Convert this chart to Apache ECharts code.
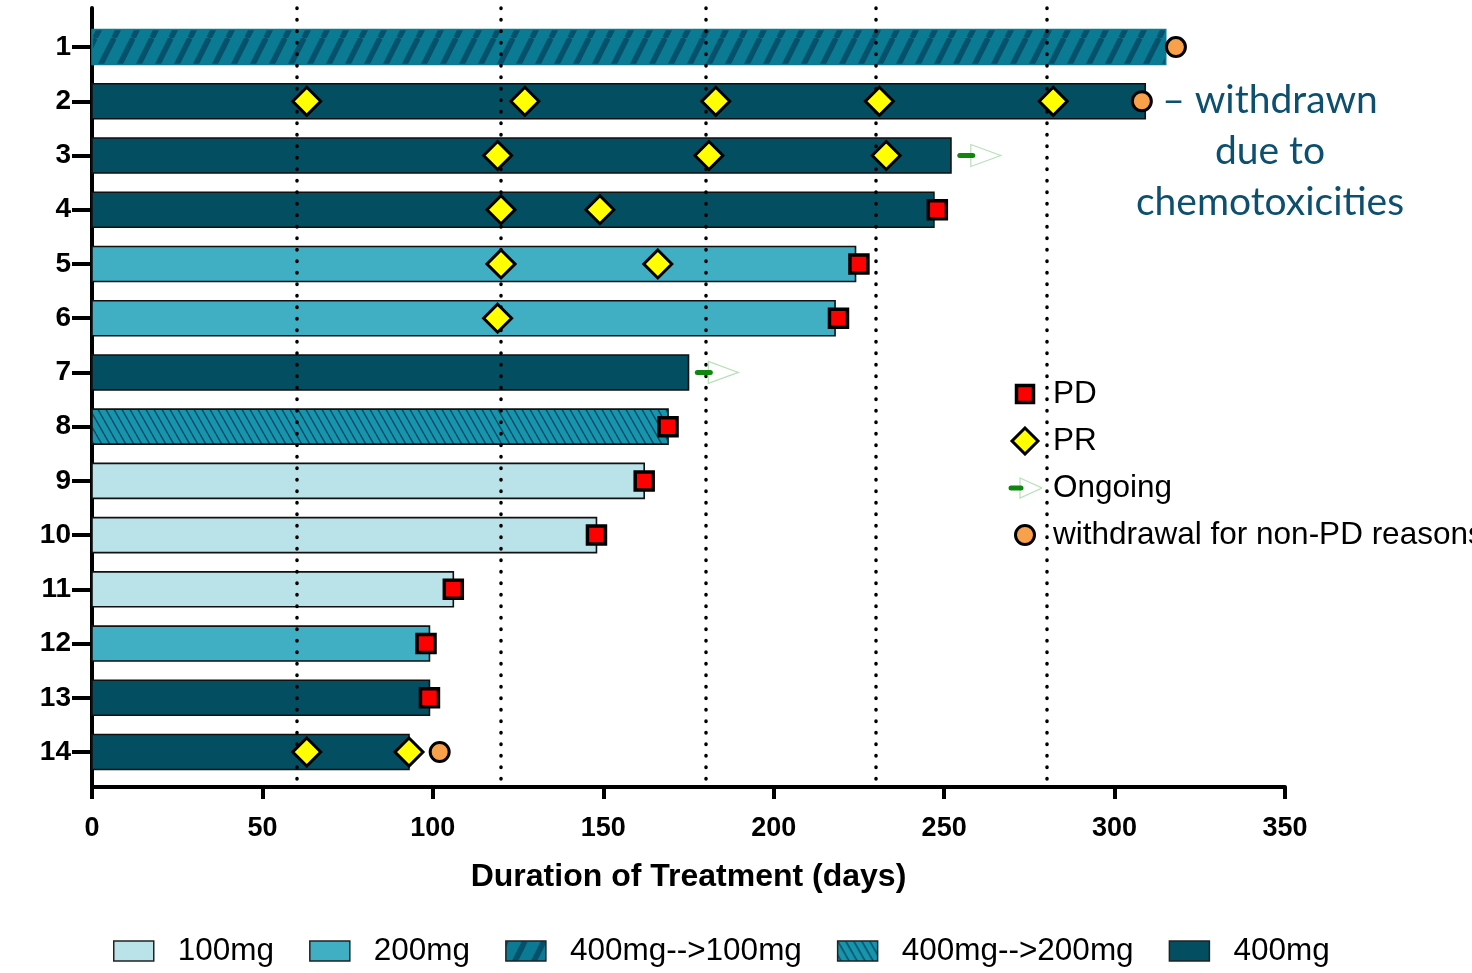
<!DOCTYPE html>
<html><head><meta charset="utf-8">
<script src="https://cdn.jsdelivr.net/npm/echarts@6/dist/echarts.min.js"></script>
<style>html,body{margin:0;padding:0;background:#fff}#c{width:1472px;height:973px}</style>
</head><body><div id="c"></div>
<script>
// ---------- data ----------
const patientRows = [1, 2, 3, 4, 5, 6, 7, 8, 9, 10, 11, 12, 13, 14];
const durations = [315, 309, 252, 247, 224, 218, 175, 169, 162, 148, 106, 99, 99, 93];
const doses = ['400mg-->100mg', '400mg', '400mg', '400mg', '200mg', '200mg', '400mg',
  '400mg-->200mg', '100mg', '100mg', '100mg', '200mg', '400mg', '400mg'];
const doseLevels = ['100mg', '200mg', '400mg-->100mg', '400mg-->200mg', '400mg'];
// [day, patient row]
const prEvents = [[63, 2], [127, 2], [183, 2], [231, 2], [282, 2], [119, 3], [181, 3], [233, 3],
  [120, 4], [149, 4], [120, 5], [166, 5], [119, 6], [63, 14], [93, 14]];
const pdEvents = [[248, 4], [225, 5], [219, 6], [169, 8], [162, 9], [148, 10], [106, 11], [98, 12], [99, 13]];
const ongoingEvents = [[254, 3], [177, 7]];
const withdrawalEvents = [[318, 1], [308, 2], [102, 14]];
const referenceDays = [60, 120, 180, 230, 280];
const xTickValues = [0, 50, 100, 150, 200, 250, 300, 350];
const eventNames = ['PD', 'PR', 'Ongoing', 'withdrawal for non-PD reasons'];
const annotationLines = ['– withdrawn', 'due to', 'chemotoxicities'];

// ---------- styles ----------
function hatch(bg, fg, w, h, lw, dir) {
  const c = document.createElement('canvas');
  c.width = w; c.height = h;
  const g = c.getContext('2d');
  g.fillStyle = bg; g.fillRect(0, 0, w, h);
  g.strokeStyle = fg; g.lineWidth = lw;
  g.beginPath();
  for (let k = -1; k <= 1; k++) {
    if (dir === '/') { g.moveTo(k * w, h); g.lineTo(k * w + w, 0); }
    else { g.moveTo(k * w, 0); g.lineTo(k * w + w, h); }
  }
  g.stroke();
  return c;
}
const pat100 = { image: hatch('#0b7b93', '#05506a', 19, 38, 5.5, '/'), repeat: 'repeat' };
const pat200 = { image: hatch('#1795ae', '#0a4c5e', 8, 14, 1.4, '\\'), repeat: 'repeat' };
const doseStyle = {
  '100mg': { fill: '#bae3e9', stroke: '#111' },
  '200mg': { fill: '#40aec3', stroke: '#111' },
  '400mg-->100mg': { fill: pat100, stroke: '#0b7b93' },
  '400mg-->200mg': { fill: pat200, stroke: '#111' },
  '400mg': { fill: '#044e61', stroke: '#111' }
};

// legend icons drawn at their real size on a 34x30 canvas
function iconCanvas(draw) {
  const c = document.createElement('canvas');
  c.width = 34; c.height = 30;
  const g = c.getContext('2d');
  draw(g);
  return 'image://' + c.toDataURL();
}
const eventIcons = {
  'PD': iconCanvas(g => {
    g.fillStyle = '#ff0000'; g.strokeStyle = '#000'; g.lineWidth = 3.5;
    g.fillRect(8.5, 6.5, 17, 17); g.strokeRect(8.5, 6.5, 17, 17);
  }),
  'PR': iconCanvas(g => {
    g.fillStyle = '#ffff00'; g.strokeStyle = '#000'; g.lineWidth = 3;
    g.beginPath(); g.moveTo(17, 2); g.lineTo(30, 15); g.lineTo(17, 28); g.lineTo(4, 15); g.closePath();
    g.fill(); g.stroke();
  }),
  'Ongoing': iconCanvas(g => {
    g.fillStyle = '#fff'; g.strokeStyle = '#b9e0b9'; g.lineWidth = 1.2;
    g.beginPath(); g.moveTo(12, 5); g.lineTo(34, 15); g.lineTo(12, 25); g.closePath();
    g.fill(); g.stroke();
    g.strokeStyle = '#0f870f'; g.lineWidth = 5; g.lineCap = 'round';
    g.beginPath(); g.moveTo(3, 15); g.lineTo(13, 15); g.stroke();
  }),
  'withdrawal for non-PD reasons': iconCanvas(g => {
    g.fillStyle = '#f9a04b'; g.strokeStyle = '#000'; g.lineWidth = 3;
    g.beginPath(); g.arc(17, 15, 9.5, 0, Math.PI * 2); g.fill(); g.stroke();
  })
};

const FONT = '"Liberation Sans", Arial, sans-serif';

function renderBar(params, api) {
  const row = api.value(1);
  const end = api.coord([api.value(0), row]);
  const start = api.coord([0, row]);
  const h = api.size([0, 0.645])[1];
  const st = doseStyle[doses[row - 1]];
  return {
    type: 'rect',
    shape: { x: start[0], y: end[1] - h / 2, width: end[0] - start[0], height: h },
    style: { fill: st.fill, stroke: st.stroke, lineWidth: 1.6 }
  };
}

function renderOngoing(params, api) {
  const p = api.coord([api.value(0), api.value(1)]);
  return {
    type: 'group',
    children: [
      { type: 'polygon', shape: { points: [[p[0] + 13, p[1] - 11], [p[0] + 43, p[1]], [p[0] + 13, p[1] + 11]] },
        style: { fill: '#fff', stroke: '#b9e0b9', lineWidth: 1.2 } },
      { type: 'line', shape: { x1: p[0] + 2, y1: p[1], x2: p[0] + 15, y2: p[1] },
        style: { stroke: '#0f870f', lineWidth: 5, lineCap: 'round' } }
    ]
  };
}

const barSeries = doseLevels.map(level => ({
  name: level,
  type: 'custom',
  renderItem: renderBar,
  z: 2,
  itemStyle: { color: doseStyle[level].fill, borderColor: '#222', borderWidth: 1.5 },
  encode: { x: 0, y: 1 },
  data: patientRows.filter(r => doses[r - 1] === level).map(r => [durations[r - 1], r])
}));

const chart = echarts.init(document.getElementById('c'), null, { renderer: 'canvas' });
chart.setOption({
  animation: false,
  backgroundColor: '#fff',
  grid: { left: 92, right: 187, top: 8, bottom: 186 },
  xAxis: {
    type: 'value', min: 0, max: 350, interval: 50,
    axisLine: { show: true, lineStyle: { color: '#000', width: 4 } },
    axisTick: { show: true, length: 12, lineStyle: { color: '#000', width: 4 } },
    axisLabel: { color: '#000', fontFamily: FONT, fontWeight: 'bold', fontSize: 27, margin: 28,
      customValues: xTickValues },
    splitLine: { show: false },
    name: 'Duration of Treatment (days)', nameLocation: 'middle', nameGap: 74,
    nameTextStyle: { color: '#000', fontFamily: FONT, fontWeight: 'bold', fontSize: 32 }
  },
  yAxis: {
    type: 'value', inverse: true, min: 0.28, max: 14.645,
    axisLine: { show: true, onZero: false, lineStyle: { color: '#000', width: 4 } },
    axisTick: { show: true, length: 20, lineStyle: { color: '#000', width: 4 }, customValues: patientRows },
    axisLabel: { color: '#000', fontFamily: FONT, fontWeight: 'bold', fontSize: 28, margin: 21,
      customValues: patientRows },
    splitLine: { show: false }
  },
  legend: [
    {
      data: doseLevels, orient: 'horizontal', left: 113, top: 935, padding: 0,
      icon: 'rect', itemWidth: 40, itemHeight: 20, itemGap: 35,
      itemStyle: { borderColor: '#222', borderWidth: 1.5 },
      textStyle: { color: '#000', fontFamily: FONT, fontSize: 31.5, padding: [0, 0, 0, 19] },
      selectedMode: false
    },
    {
      data: eventNames.map(n => ({ name: n, icon: eventIcons[n] })),
      orient: 'vertical', left: 1008, top: 378, padding: 0,
      itemWidth: 34, itemHeight: 30, itemGap: 15,
      textStyle: { color: '#000', fontFamily: FONT, fontSize: 31.5, padding: [0, 0, 0, 6] },
      selectedMode: false
    }
  ],
  graphic: [{
    type: 'text', left: 1270 - 150, top: 75,
    style: {
      text: annotationLines.join('\n'), width: 300, textAlign: 'center',
      font: '39px Lato, "Open Sans", sans-serif', lineHeight: 51, fill: '#0d4f6e', align: 'center'
    }
  }],
  series: [
    {
      type: 'scatter', data: [], z: 1, silent: true,
      markLine: {
        silent: true, symbol: 'none', label: { show: false },
        lineStyle: { color: '#000', type: [0.5, 11], width: 3.5, cap: 'round' },
        data: referenceDays.map(d => ({ xAxis: d }))
      }
    },
    ...barSeries,
    {
      name: 'PR', type: 'scatter', z: 5, symbol: 'diamond', symbolSize: 28,
      itemStyle: { color: '#ffff00', borderColor: '#000', borderWidth: 3, opacity: 1 },
      data: prEvents
    },
    {
      name: 'PD', type: 'scatter', z: 5, symbol: 'rect', symbolSize: 18,
      itemStyle: { color: '#ff0000', borderColor: '#000', borderWidth: 3.5, opacity: 1 },
      data: pdEvents
    },
    {
      name: 'Ongoing', type: 'custom', z: 5, renderItem: renderOngoing,
      itemStyle: { color: '#0f870f' }, encode: { x: 0, y: 1 },
      data: ongoingEvents
    },
    {
      name: 'withdrawal for non-PD reasons', type: 'scatter', z: 5, symbol: 'circle', symbolSize: 19,
      itemStyle: { color: '#f9a04b', borderColor: '#000', borderWidth: 3, opacity: 1 },
      data: withdrawalEvents
    }
  ]
});
</script>
</body></html>
